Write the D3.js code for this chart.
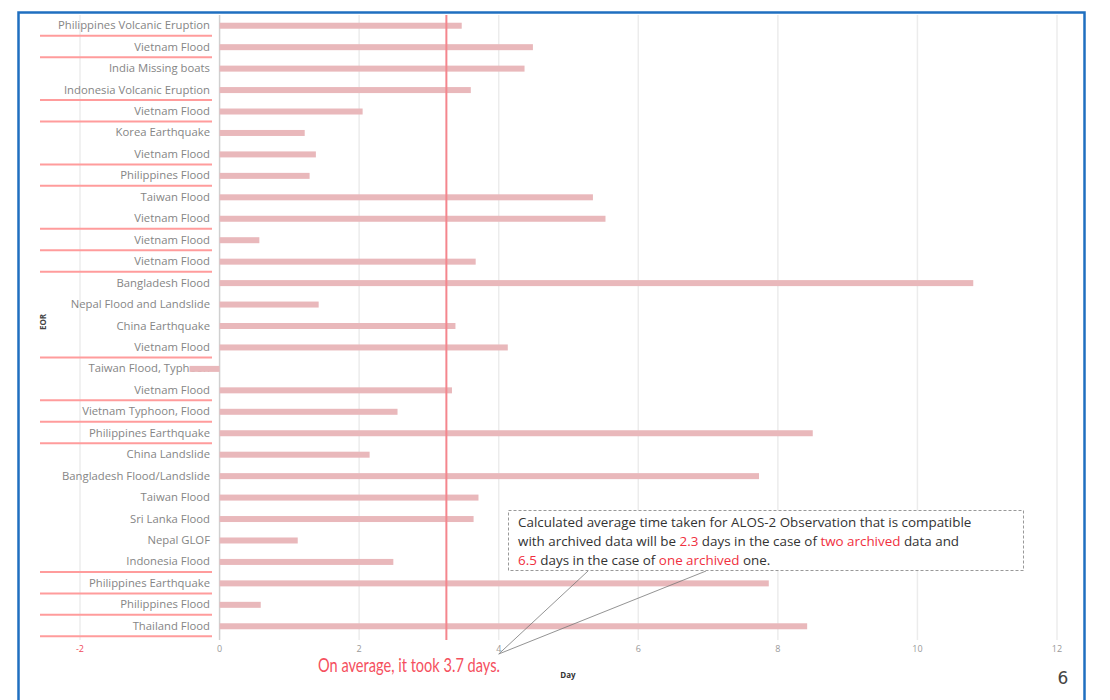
<!DOCTYPE html>
<html>
<head>
<meta charset="utf-8">
<script src="https://cdn.jsdelivr.net/npm/d3@7"></script>
<style>
  body { margin: 0; background: #fff; }
  svg { display: block; }
</style>
</head>
<body>
<div id="chart"></div>
<script>
// categories top to bottom
var events = [
  "Philippines Volcanic Eruption", "Vietnam Flood", "India Missing boats",
  "Indonesia Volcanic Eruption", "Vietnam Flood", "Korea Earthquake",
  "Vietnam Flood", "Philippines Flood", "Taiwan Flood", "Vietnam Flood",
  "Vietnam Flood", "Vietnam Flood", "Bangladesh Flood", "Nepal Flood and Landslide",
  "China Earthquake", "Vietnam Flood", "Taiwan Flood, Typhoon", "Vietnam Flood",
  "Vietnam Typhoon, Flood", "Philippines Earthquake", "China Landslide",
  "Bangladesh Flood/Landslide", "Taiwan Flood", "Sri Lanka Flood", "Nepal GLOF",
  "Indonesia Flood", "Philippines Earthquake", "Philippines Flood", "Thailand Flood"
];
// days until observation
var days = [
  3.47, 4.49, 4.37, 3.60, 2.05, 1.22, 1.38, 1.29, 5.35, 5.53,
  0.57, 3.67, 10.8, 1.42, 3.38, 4.13, -0.43, 3.33, 2.55, 8.5,
  2.15, 7.73, 3.71, 3.64, 1.12, 2.49, 7.87, 0.59, 8.42
];
// rows marked with a red line under the label
var marked = [
  1, 1, 0, 1, 1, 0, 1, 1, 0, 1,
  1, 1, 0, 0, 0, 1, 0, 1, 1, 1,
  0, 0, 0, 0, 0, 1, 1, 1, 1
];
var xTicks = [-2, 0, 2, 4, 6, 8, 10, 12];
var meanDay = 3.25;

var W = 1110, H = 700;
var svg = d3.select("#chart").append("svg")
    .attr("width", W).attr("height", H);

var x = d3.scaleLinear().domain([-2, 12]).range([80, 1057]);
var y = d3.scaleBand().domain(d3.range(events.length)).range([15, 637]);

var font = "'Open Sans', Lato, sans-serif";

// gridlines
svg.append("g").selectAll("line")
  .data(xTicks)
  .enter().append("line")
    .attr("x1", d => x(d)).attr("x2", d => x(d))
    .attr("y1", 15).attr("y2", 640)
    .attr("stroke", d => d === 0 ? "#d0d0d0" : "#ececec")
    .attr("stroke-width", 1.5);

// tick labels
svg.append("g").selectAll("text")
  .data(xTicks)
  .enter().append("text")
    .attr("x", d => x(d)).attr("y", 652)
    .attr("text-anchor", "middle")
    .style("font-family", font).style("font-size", "9px")
    .attr("fill", d => d === -2 ? "#f04a5a" : "#999")
    .text(d => d);

// category labels
svg.append("g").selectAll("text")
  .data(events)
  .enter().append("text")
    .attr("x", 210)
    .attr("y", (d, i) => y(i) + y.bandwidth() / 2 + 3.5)
    .attr("text-anchor", "end")
    .style("font-family", font).style("font-size", "11.3px")
    .attr("fill", "#858585")
    .text(d => d);

// red lines under marked labels
svg.append("g").selectAll("line")
  .data(marked.map((m, i) => ({m: m, i: i})).filter(d => d.m))
  .enter().append("line")
    .attr("x1", 40).attr("x2", 212)
    .attr("y1", d => y(d.i) + y.bandwidth() / 2 + 10)
    .attr("y2", d => y(d.i) + y.bandwidth() / 2 + 10)
    .attr("stroke", "#ff9c9c")
    .attr("stroke-width", 2);

// bars
svg.append("g").selectAll("rect")
  .data(days)
  .enter().append("rect")
    .attr("x", d => x(Math.min(0, d)))
    .attr("y", (d, i) => y(i) + y.bandwidth() / 2 - 3)
    .attr("width", d => Math.abs(x(d) - x(0)))
    .attr("height", 6)
    .attr("fill", "#e9b8bb");

// average line
svg.append("line")
    .attr("x1", x(meanDay)).attr("x2", x(meanDay))
    .attr("y1", 15).attr("y2", 640)
    .attr("stroke", "#f4868d")
    .attr("stroke-width", 2);

// y axis title
svg.append("text")
    .attr("transform", "translate(46,322) rotate(-90)")
    .attr("text-anchor", "middle")
    .style("font-family", font).style("font-size", "8px").style("font-weight", "bold")
    .attr("fill", "#444")
    .text("EOR");

// x axis title
svg.append("text")
    .attr("x", 568).attr("y", 678)
    .attr("text-anchor", "middle")
    .style("font-family", font).style("font-size", "8px").style("font-weight", "bold")
    .attr("fill", "#333")
    .text("Day");

svg.append("text")
    .attr("x", 318).attr("y", 672)
    .attr("textLength", 182).attr("lengthAdjust", "spacingAndGlyphs")
    .style("font-family", "Lato, sans-serif").style("font-size", "19px")
    .attr("fill", "#f5505e")
    .text("On average, it took 3.7 days.");

// annotation box + callouts
svg.append("line")
    .attr("x1", x(4)).attr("y1", 654).attr("x2", 588).attr("y2", 571)
    .attr("stroke", "#777").attr("stroke-width", 0.8);
svg.append("line")
    .attr("x1", x(4)).attr("y1", 654).attr("x2", 706).attr("y2", 571)
    .attr("stroke", "#777").attr("stroke-width", 0.8);

svg.append("rect")
    .attr("x", 508.5).attr("y", 510.5).attr("width", 515).attr("height", 60)
    .attr("fill", "#fff")
    .attr("stroke", "#999").attr("stroke-dasharray", "3,2");

var noteLines = [
  [["Calculated average time taken for ALOS-2 Observation that is compatible", "#333"]],
  [["with archived data will be ", "#333"], ["2.3", "#f03040"], [" days in the case of ", "#333"],
   ["two archived", "#f03040"], [" data and", "#333"]],
  [["6.5", "#f03040"], [" days in the case of ", "#333"], ["one archived", "#f03040"], [" one.", "#333"]]
];
noteLines.forEach(function (parts, li) {
  var t = svg.append("text")
      .attr("x", 518).attr("y", 527 + li * 19)
      .style("font-family", font).style("font-size", "13.4px");
  parts.forEach(function (p) {
    t.append("tspan").attr("fill", p[1]).text(p[0]);
  });
});

// frame and page number
svg.append("rect")
    .attr("x", 18.5).attr("y", 12.5).attr("width", 1066).attr("height", 700)
    .attr("fill", "none")
    .attr("stroke", "#1f6fc0").attr("stroke-width", 2.5);

svg.append("text")
    .attr("x", 1063).attr("y", 684)
    .attr("text-anchor", "middle")
    .style("font-family", "'DejaVu Sans', sans-serif").style("font-size", "17px")
    .attr("fill", "#444")
    .text("6");
</script>
</body>
</html>
